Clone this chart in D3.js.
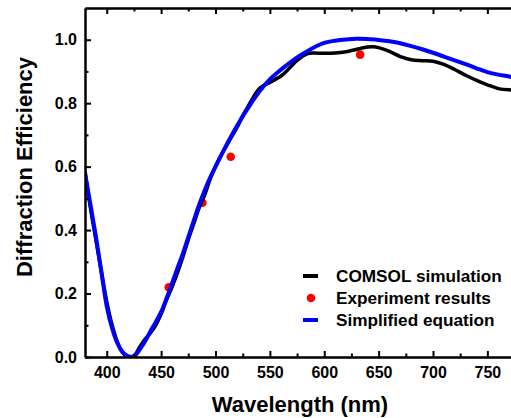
<!DOCTYPE html>
<html><head><meta charset="utf-8">
<script src="https://cdn.jsdelivr.net/npm/d3@7"></script>
<style>
body{margin:0;background:#fff;}
svg{display:block;font-family:"Liberation Sans",Arial,sans-serif;}
</style></head>
<body><svg id="c" width="511" height="418"></svg>
<script>
// ---- data ----
const comsolWl = [380,385,390,395,400,405,410,415,420,425,430,435,440,445,450,455,460,465,470,475,480,485,490,495,500,505,510,515,520,525,530,535,540,545,550,555,560,565,570,575,580,585,590,600,610,620,630,640,645,650,660,670,680,690,700,710,720,730,740,750,760,770,780];
const comsolDE = [0.585,0.47,0.37,0.27,0.175,0.10,0.045,0.012,0.001,0.003,0.03,0.055,0.075,0.10,0.135,0.18,0.22,0.265,0.315,0.37,0.42,0.47,0.51,0.56,0.60,0.635,0.665,0.695,0.725,0.76,0.79,0.82,0.845,0.857,0.865,0.875,0.885,0.90,0.918,0.935,0.948,0.956,0.958,0.957,0.958,0.962,0.970,0.977,0.978,0.975,0.963,0.947,0.937,0.934,0.932,0.922,0.906,0.888,0.872,0.858,0.846,0.842,0.842];
const simpWl = [380,385,390,395,400,405,410,415,420,425,430,435,440,445,450,455,460,465,470,475,480,485,490,495,500,510,520,530,540,550,560,570,580,590,600,610,620,630,640,650,660,670,680,690,700,710,720,730,740,750,760,770,780];
const simpDE = [0.58,0.48,0.38,0.27,0.16,0.09,0.042,0.014,0.002,0.002,0.022,0.048,0.08,0.11,0.142,0.185,0.232,0.28,0.326,0.378,0.43,0.48,0.525,0.565,0.60,0.668,0.73,0.785,0.835,0.875,0.905,0.932,0.955,0.975,0.99,0.997,1.001,1.003,1.002,0.999,0.995,0.989,0.98,0.97,0.959,0.947,0.935,0.923,0.91,0.898,0.89,0.884,0.876];
const expWl = [457,488,514,633];
const expDE = [0.22,0.486,0.631,0.953];
const xMajor = [400,450,500,550,600,650,700,750];
const xMinor = [425,475,525,575,625,675,725,775];
const yMajor = [0,0.2,0.4,0.6,0.8,1.0];
const yMinor = [0.1,0.3,0.5,0.7,0.9];
const legendLabels = ["COMSOL simulation","Experiment results","Simplified equation"];

// ---- layout ----
const svg = d3.select("#c");
const L=85, R=520, T=8, B=357;
const x = d3.scaleLinear().domain([380,780]).range([L,R]);
const y = d3.scaleLinear().domain([0,1.1]).range([B,T]);
const font = "bold 16px 'Liberation Sans', Arial, sans-serif";

svg.append("defs").append("clipPath").attr("id","pc")
  .append("rect").attr("x",L).attr("y",T).attr("width",R-L).attr("height",B-T);

const plot = svg.append("g").attr("clip-path","url(#pc)");

// experiment dots (drawn first, lines on top)
plot.selectAll("circle.exp").data(expWl).join("circle")
  .attr("cx",(d)=>x(d)).attr("cy",(d,i)=>y(expDE[i])).attr("r",4.3).attr("fill","#ff0000");

const line = d3.line().curve(d3.curveCatmullRom.alpha(0.5));
plot.append("path")
  .attr("d", line(comsolWl.map((w,i)=>[x(w),y(comsolDE[i])])))
  .attr("fill","none").attr("stroke","#000").attr("stroke-width",3.5).attr("stroke-linejoin","round");
plot.append("path")
  .attr("d", line(simpWl.map((w,i)=>[x(w),y(simpDE[i])])))
  .attr("fill","none").attr("stroke","#0000ff").attr("stroke-width",4).attr("stroke-linejoin","round");

// axes
function style(g){
  g.select(".domain").attr("stroke","#000").attr("stroke-width",2);
  g.selectAll(".tick line").attr("stroke","#000").attr("stroke-width",2);
  g.selectAll(".tick text").attr("fill","#000").style("font",font);
}
svg.append("g").attr("transform",`translate(0,${B})`)
  .call(d3.axisBottom(x).tickValues(xMinor).tickSize(-3.5).tickSizeOuter(0).tickFormat(""))
  .call(style);
svg.append("g").attr("transform",`translate(0,${B})`)
  .call(d3.axisBottom(x).tickValues(xMajor).tickSize(-6).tickSizeOuter(0).tickPadding(10).tickFormat(d3.format("d")))
  .call(style);
svg.append("g").attr("transform",`translate(0,${T})`)
  .call(d3.axisTop(x).tickValues(xMinor).tickSize(-3.5).tickSizeOuter(0).tickFormat(""))
  .call(style);
svg.append("g").attr("transform",`translate(0,${T})`)
  .call(d3.axisTop(x).tickValues(xMajor).tickSize(-6).tickSizeOuter(0).tickFormat(""))
  .call(style);
svg.append("g").attr("transform",`translate(${L},0)`)
  .call(d3.axisLeft(y).tickValues(yMinor).tickSize(-3.5).tickSizeOuter(0).tickFormat(""))
  .call(style);
svg.append("g").attr("transform",`translate(${L},0)`)
  .call(d3.axisLeft(y).tickValues(yMajor).tickSize(-6).tickSizeOuter(0).tickPadding(8).tickFormat(d3.format(".1f")))
  .call(style);

// axis titles
svg.append("text").attr("x",300).attr("y",412).attr("text-anchor","middle")
  .style("font","bold 22px 'Liberation Sans', Arial, sans-serif").text("Wavelength (nm)");
svg.append("text").attr("transform","translate(32,167) rotate(-90)").attr("text-anchor","middle")
  .style("font","bold 22px 'Liberation Sans', Arial, sans-serif").text("Diffraction Efficiency");

// legend
const lg = svg.append("g");
const rows = [276,298,320];
lg.append("rect").attr("x",303).attr("y",rows[0]-2).attr("width",15).attr("height",4).attr("fill","#000");
lg.append("circle").attr("cx",311).attr("cy",rows[1]).attr("r",4.3).attr("fill","#ff0000");
lg.append("rect").attr("x",303).attr("y",rows[2]-2).attr("width",15).attr("height",4).attr("fill","#0000ff");
lg.selectAll("text.lg").data(legendLabels).join("text")
  .attr("x",336).attr("y",(d,i)=>rows[i]+6)
  .style("font","bold 17.2px 'Liberation Sans', Arial, sans-serif").text(d=>d);
</script></body></html>
